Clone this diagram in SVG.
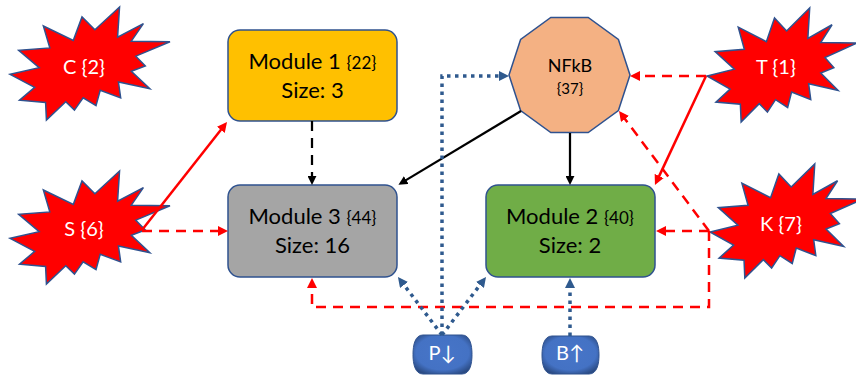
<svg xmlns="http://www.w3.org/2000/svg" width="856" height="375" viewBox="0 0 856 375">
  <style>
    text { font-family: Lato, "Liberation Sans", "DejaVu Sans", sans-serif; }
    .mod { fill: #000; font-size: 22px; text-anchor: middle; }
    .sm { font-size: 17px; }
    .lbl { fill: #fff; font-size: 20px; text-anchor: middle; }
    .box { stroke: #2F528F; stroke-width: 1.5; }
    .red { stroke: #FF0000; stroke-width: 2.5; fill: none; }
    .blk { stroke: #000; stroke-width: 2.25; fill: none; }
    .dash { stroke-dasharray: 10 7; }
    .dot { stroke: #2F5A8E; stroke-width: 3.5; stroke-dasharray: 3.5 4.5; fill: none; }
    .pill { stroke: #2F528F; stroke-width: 1; fill: url(#pillFill); }
  </style>
  <defs>
    <!-- explosion outline on a 216 x 216 grid -->
    <path id="burst" fill="#FF0000" stroke="#2F528F" stroke-width="1.5" vector-effect="non-scaling-stroke"
      d="M114.62,43.42 L147.9,0 L145.25,57.77 L180.07,31.72 L163.8,65.32 L216,66.45 L169.85,94.02 L182.7,112.9 L163.8,123.1 L188.77,156.32 L146.4,143.5 L149.42,173.7 L121.8,159.35 L116.12,188.42 L98.72,173.7 L87,197.12 L75.27,181.25 L49.17,216 L48.05,182.4 L12.85,178.25 L33.3,153.7 L0,128.77 L39.35,115.92 L11.72,82.7 L53.72,78.17 L45.02,36.25 L85.5,63.82 L97.22,18.87 Z"/>
    <radialGradient id="pillFill" cx="50%" cy="45%" r="62%">
      <stop offset="0" stop-color="#4775C8"/>
      <stop offset="0.72" stop-color="#4472C4"/>
      <stop offset="1" stop-color="#2A4A82"/>
    </radialGradient>
    <marker id="ahRed" viewBox="0 0 10 10" refX="4" refY="5" markerWidth="10" markerHeight="10" markerUnits="userSpaceOnUse" orient="auto">
      <path d="M0,0 L10,5 L0,10 Z" fill="#FF0000"/>
    </marker>
    <marker id="ahBlk" viewBox="0 0 10 10" refX="4" refY="5" markerWidth="9" markerHeight="9" markerUnits="userSpaceOnUse" orient="auto">
      <path d="M0,0 L10,5 L0,10 Z" fill="#000"/>
    </marker>
    <marker id="ahBlue" viewBox="0 0 10 10" refX="4" refY="5" markerWidth="10" markerHeight="10" markerUnits="userSpaceOnUse" orient="auto">
      <path d="M0,0 L10,5 L0,10 Z" fill="#2F5A8E"/>
    </marker>
  </defs>

  <rect width="856" height="375" fill="#FFFFFF"/>

  <g id="node-C">
    <use href="#burst" transform="translate(10,7) scale(0.7407,0.5231)"/>
    <text class="lbl" x="84" y="74">C {2}</text>
  </g>
  <g id="node-S">
    <use href="#burst" transform="translate(10,171) scale(0.7407,0.5231)"/>
    <text class="lbl" x="84" y="236">S {6}</text>
  </g>
  <g id="node-T">
    <use href="#burst" transform="translate(707,8) scale(0.6944,0.5278)"/>
    <text class="lbl" x="776" y="74">T {1}</text>
  </g>
  <g id="node-K">
    <use href="#burst" transform="translate(710,164) scale(0.7083,0.5278)"/>
    <text class="lbl" x="781" y="231">K {7}</text>
  </g>

  <g id="node-module1">
    <rect class="box" x="228" y="30" width="169" height="91" rx="12" fill="#FFC000"/>
    <text class="mod" x="312.5" y="69">Module 1 <tspan class="sm">{22}</tspan></text>
    <text class="mod" x="312.5" y="98">Size: 3</text>
  </g>
  <g id="node-module3">
    <rect class="box" x="228" y="185" width="169" height="92" rx="12" fill="#A5A5A5"/>
    <text class="mod" x="312.5" y="224">Module 3 <tspan class="sm">{44}</tspan></text>
    <text class="mod" x="312.5" y="253">Size: 16</text>
  </g>
  <g id="node-module2">
    <rect class="box" x="486" y="185" width="169" height="92" rx="12" fill="#70AD47"/>
    <text class="mod" x="570" y="224">Module 2 <tspan class="sm">{40}</tspan></text>
    <text class="mod" x="570" y="253">Size: 2</text>
  </g>
  <g id="node-NFkB">
    <polygon class="box" fill="#F4B183" points="630,75 618.4,39.4 588.2,17.5 550.8,17.5 520.6,39.4 509,75 520.6,110.6 550.8,132.5 588.2,132.5 618.4,110.6"/>
    <text x="570" y="72" font-size="18" text-anchor="middle" fill="#000">NFkB</text>
    <text x="570" y="94" font-size="15" text-anchor="middle" fill="#000">{37}</text>
  </g>
  <g id="node-P">
    <path class="pill" d="M423,335 H462 C470,335 472,345 472,354.5 C472,364 470,374 462,374 H423 C415,374 413,364 413,354.5 C413,345 415,335 423,335 Z"/>
    <text class="lbl" x="442" y="360">P↓</text>
  </g>
  <g id="node-B">
    <path class="pill" d="M552,336 H589 C597,336 599,346 599,355 C599,364 597,374 589,374 H552 C544,374 542,364 542,355 C542,346 544,336 552,336 Z"/>
    <text class="lbl" x="570" y="360">B↑</text>
  </g>

  <g id="connectors">
    <!-- red: dashed and solid -->
    <path class="red dash" d="M709,231 V307 H312 V284" marker-end="url(#ahRed)"/>
    <line class="red" x1="142" y1="230" x2="223.3" y2="126.7" marker-end="url(#ahRed)"/>
    <line class="red dash" x1="142" y1="231" x2="222" y2="231" marker-end="url(#ahRed)"/>
    <line class="red dash" x1="706" y1="76" x2="636" y2="76" marker-end="url(#ahRed)"/>
    <line class="red" x1="706" y1="76" x2="657.5" y2="179.6" marker-end="url(#ahRed)"/>
    <line class="red dash" x1="709" y1="231" x2="622.6" y2="115.8" marker-end="url(#ahRed)"/>
    <line class="red dash" x1="709" y1="231" x2="662" y2="231" marker-end="url(#ahRed)"/>
    <!-- black -->
    <line class="blk dash" x1="312" y1="121" x2="312" y2="179.5" marker-end="url(#ahBlk)"/>
    <line class="blk" x1="521" y1="111" x2="403.1" y2="181.9" marker-end="url(#ahBlk)"/>
    <line class="blk" x1="570" y1="133" x2="570" y2="179.5" marker-end="url(#ahBlk)"/>
    <!-- blue dotted -->
    <path class="dot" d="M442,335 V76 H503" marker-end="url(#ahBlue)"/>
    <line class="dot" x1="442" y1="335" x2="401.6" y2="281.8" marker-end="url(#ahBlue)"/>
    <line class="dot" x1="442" y1="335" x2="482.4" y2="281.8" marker-end="url(#ahBlue)"/>
    <line class="dot" x1="570" y1="336" x2="570" y2="284" marker-end="url(#ahBlue)"/>
  </g>
</svg>
